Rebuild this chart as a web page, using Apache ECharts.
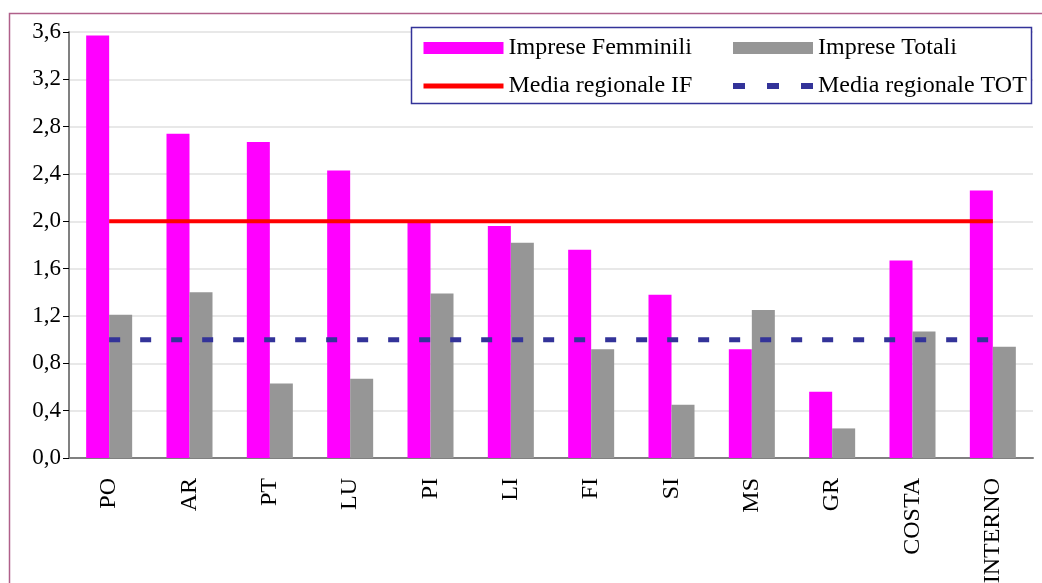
<!DOCTYPE html>
<html>
<head>
<meta charset="utf-8">
<script src="https://cdn.jsdelivr.net/npm/echarts@6/dist/echarts.min.js"></script>
<style>
  html, body { margin: 0; padding: 0; background: #fff; }
  #char1 { width: 1042px; height: 583px; }
</style>
</head>
<body>
<div id="char1"></div>
<script>
  // categorie e valori
  var categorie = ['PO', 'AR', 'PT', 'LU', 'PI', 'LI', 'FI', 'SI', 'MS', 'GR', 'COSTA', 'INTERNO'];
  var impreseFemminili = [3.57, 2.74, 2.67, 2.43, 1.99, 1.96, 1.76, 1.38, 0.92, 0.56, 1.67, 2.26];
  var impreseTotali = [1.21, 1.40, 0.63, 0.67, 1.39, 1.82, 0.92, 0.45, 1.25, 0.25, 1.07, 0.94];
  var mediaIF = [2.0, 2.0, 2.0, 2.0, 2.0, 2.0, 2.0, 2.0, 2.0, 2.0, 2.0, 2.0];
  var mediaTOT = [1.0, 1.0, 1.0, 1.0, 1.0, 1.0, 1.0, 1.0, 1.0, 1.0, 1.0, 1.0];

  var font = '"Liberation Serif", "Times New Roman", serif';

  var dom = document.getElementById("char1");
  var myChart = echarts.init(dom);

  var legendText = { fontFamily: font, fontSize: 24, color: '#000' };

  var option = {
    animation: false,
    textStyle: { fontFamily: font },
    graphic: [
      {
        type: 'rect', z: 0, silent: true,
        shape: { x: 9.5, y: 13.5, width: 1200, height: 800 },
        style: { fill: 'none', stroke: '#b0608a', lineWidth: 1.5 }
      },
      {
        type: 'rect', z: 10, silent: true,
        shape: { x: 411.5, y: 27.5, width: 620, height: 76 },
        style: { fill: '#fff', stroke: '#333399', lineWidth: 1.5 }
      }
    ],
    legend: [
      {
        z: 20,
        orient: 'vertical',
        left: 421, top: 36, padding: 0,
        itemWidth: 80, itemHeight: 12, itemGap: 14,
        textStyle: legendText,
        data: [
          { name: 'Imprese Femminili', icon: 'rect' },
          { name: 'Media regionale IF', itemStyle: { opacity: 0 }, lineStyle: { width: 5 } }
        ]
      },
      {
        z: 20,
        orient: 'vertical',
        left: 730, top: 36, padding: 0,
        itemWidth: 80, itemHeight: 12, itemGap: 14,
        textStyle: legendText,
        data: [
          { name: 'Imprese Totali', icon: 'rect' },
          { name: 'Media regionale TOT', itemStyle: { opacity: 0 }, lineStyle: { width: 6, type: [12, 22] } }
        ]
      }
    ],
    grid: {
      left: 69,
      right: 9,
      top: 32,
      bottom: 125,
      outerBoundsMode: 'none'
    },
    xAxis: {
      type: 'category',
      data: categorie,
      axisLine: { lineStyle: { color: '#808080', width: 2 } },
      axisTick: { show: false },
      axisLabel: {
        interval: 0,
        rotate: 90,
        margin: 20,
        fontFamily: font,
        fontSize: 24,
        color: '#000'
      }
    },
    yAxis: {
      type: 'value',
      min: 0,
      max: 3.6,
      interval: 0.4,
      axisLine: { show: true, lineStyle: { color: '#808080', width: 2 } },
      axisTick: { show: true, length: 6, lineStyle: { color: '#000' } },
      splitLine: { lineStyle: { color: '#e0e0e0', width: 1.5 } },
      axisLabel: {
        margin: 8,
        fontFamily: font,
        fontSize: 23,
        color: '#000',
        formatter: function (v) { return v.toFixed(1).replace('.', ','); }
      }
    },
    series: [
      {
        name: 'Imprese Femminili',
        type: 'bar',
        data: impreseFemminili,
        barWidth: 23,
        barGap: '0%',
        itemStyle: { color: '#ff00ff' }
      },
      {
        name: 'Imprese Totali',
        type: 'bar',
        data: impreseTotali,
        barWidth: 23,
        barGap: '0%',
        itemStyle: { color: '#969696' }
      },
      {
        name: 'Media regionale IF',
        type: 'line',
        data: mediaIF,
        symbol: 'none',
        z: 5,
        lineStyle: { color: '#ff0000', width: 4 },
        itemStyle: { color: '#ff0000' }
      },
      {
        name: 'Media regionale TOT',
        type: 'line',
        data: mediaTOT,
        symbol: 'none',
        z: 5,
        lineStyle: { color: '#333399', width: 5, type: [11, 20] },
        itemStyle: { color: '#333399' }
      }
    ]
  };

  if (option && typeof option === "object") {
    myChart.setOption(option, true);
  }
</script>
</body>
</html>
